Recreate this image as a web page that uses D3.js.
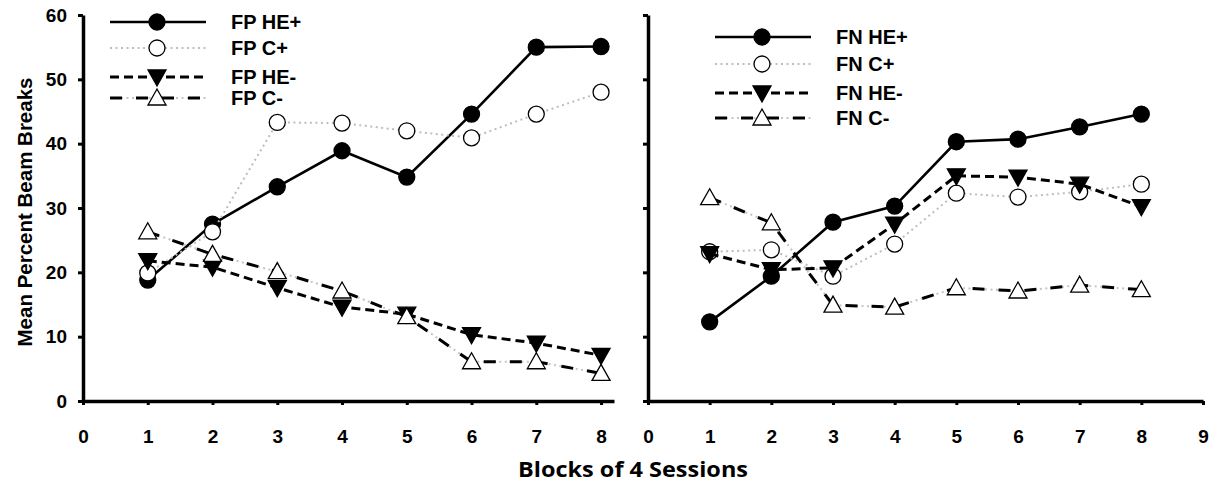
<!DOCTYPE html>
<html>
<head>
    <meta charset="utf-8">
    <title>Mean Percent Beam Breaks</title>
    <style type="text/css">
        body {
            margin: 0;
            background: #fff;
        }
        .axis path, .axis line {
            stroke: #000;
        }
        .axis path {
            stroke-width: 3.5px;
        }
        .axis line {
            stroke-width: 3px;
        }
        .axis text, .legend text {
            font-family: 'Liberation Sans', Arial, sans-serif;
            font-weight: 700;
            fill: #000;
        }
        .axis text {
            font-size: 19px;
        }
        .legend text {
            font-size: 20px;
        }
    </style>
</head>
<body>
<script src="https://d3js.org/d3.v7.min.js"></script>
<script>

    var width = 1224,
        height = 485;

    // data
    var blocks = [1, 2, 3, 4, 5, 6, 7, 8];
    var yTicks = [0, 10, 20, 30, 40, 50, 60];
    var xTicksLeft = [0, 1, 2, 3, 4, 5, 6, 7, 8];
    var xTicksRight = [0, 1, 2, 3, 4, 5, 6, 7, 8, 9];

    var legendLeft = ["FP HE+", "FP C+", "FP HE-", "FP C-"];
    var legendRight = ["FN HE+", "FN C+", "FN HE-", "FN C-"];

    var fpHEplus  = [18.8, 27.5, 33.3, 38.9, 34.8, 44.6, 55.0, 55.1];
    var fpCplus   = [19.9, 26.3, 43.3, 43.2, 42.0, 40.9, 44.6, 48.0];
    var fpHEminus = [21.8, 20.8, 17.6, 14.6, 13.5, 10.3, 9.0, 7.1];
    var fpCminus  = [26.3, 22.8, 20.1, 17.1, 13.1, 6.1, 6.1, 4.3];

    var fnHEplus  = [12.3, 19.4, 27.8, 30.3, 40.3, 40.7, 42.6, 44.6];
    var fnCplus   = [23.2, 23.5, 19.4, 24.4, 32.3, 31.7, 32.5, 33.7];
    var fnHEminus = [22.9, 20.4, 20.7, 27.5, 35.0, 34.8, 33.7, 30.2];
    var fnCminus  = [31.6, 27.7, 14.9, 14.6, 17.6, 17.1, 18.0, 17.3];

    // styles per series: HE+, C+, HE-, C-
    var styles = [
        {marker: "circle", fill: "#000", line: [{stroke: "#000", width: 2.6, dash: null}]},
        {marker: "circle", fill: "#fff", line: [{stroke: "#bdbdbd", width: 2, dash: "2,3.5"}]},
        {marker: "down", fill: "#000", line: [{stroke: "#000", width: 3, dash: "9,5"}]},
        {marker: "up", fill: "#fff", line: [
            {stroke: "#c4c4c4", width: 2, dash: "2,3.5"},
            {stroke: "#000", width: 3, dash: "12,14"}
        ]}
    ];

    var svg = d3.select("body").append("svg")
        .attr("width", width)
        .attr("height", height);

    var y = d3.scaleLinear().domain([0, 60]).range([401, 15]);
    var xLeft = d3.scaleLinear().domain([0, 8.2]).range([83, 614]);
    var xRight = d3.scaleLinear().domain([0, 9]).range([648, 1203]);

    function marker(g, type, fill, cx, cy) {
        if (type === "circle") {
            g.append("circle")
                .attr("cx", cx).attr("cy", cy).attr("r", 8)
                .attr("fill", fill).attr("stroke", "#000").attr("stroke-width", 1.3);
        } else {
            var p = type === "up"
                ? [[0, -9], [9, 7], [-9, 7]]
                : [[0, 9], [9, -7], [-9, -7]];
            g.append("path")
                .attr("transform", "translate(" + cx + "," + cy + ")")
                .attr("d", "M" + p.join("L") + "Z")
                .attr("fill", fill).attr("stroke", "#000").attr("stroke-width", 1.3);
        }
    }

    function panel(x, series, names, xTicks, showLabels, legendX, legendY) {
        var g = svg.append("g");

        // axes
        g.append("g")
            .attr("class", "axis")
            .attr("transform", "translate(" + x.range()[0] + ",0)")
            .call(d3.axisLeft(y).tickValues(yTicks).tickSize(5).tickSizeOuter(0).tickPadding(11)
                .tickFormat(showLabels ? d3.format("d") : ""));

        g.append("g")
            .attr("class", "axis")
            .attr("transform", "translate(0," + y(0) + ")")
            .call(d3.axisBottom(x).tickValues(xTicks).tickSize(4).tickSizeOuter(0).tickPadding(25)
                .tickFormat(d3.format("d")));

        // series
        series.forEach(function (vals, i) {
            var st = styles[i];
            var line = d3.line()
                .x(function (d, j) { return x(blocks[j]); })
                .y(function (d) { return y(d); });
            st.line.forEach(function (ls) {
                g.append("path")
                    .datum(vals)
                    .attr("fill", "none")
                    .attr("stroke", ls.stroke)
                    .attr("stroke-width", ls.width)
                    .attr("stroke-dasharray", ls.dash)
                    .attr("d", line);
            });
            vals.forEach(function (v, j) {
                marker(g, st.marker, st.fill, x(blocks[j]), y(v));
            });
        });

        // legend
        var lg = g.append("g").attr("class", "legend");
        names.forEach(function (name, i) {
            var st = styles[i];
            var ly = legendY[i];
            st.line.forEach(function (ls) {
                lg.append("line")
                    .attr("x1", legendX).attr("x2", legendX + 96)
                    .attr("y1", ly).attr("y2", ly)
                    .attr("stroke", ls.stroke)
                    .attr("stroke-width", ls.width)
                    .attr("stroke-dasharray", ls.dash);
            });
            marker(lg, st.marker, st.fill, legendX + 47, ly);
            lg.append("text")
                .attr("x", legendX + 121)
                .attr("y", ly)
                .attr("dy", "0.36em")
                .text(name);
        });
    }

    panel(xLeft, [fpHEplus, fpCplus, fpHEminus, fpCminus], legendLeft, xTicksLeft, true,
        110, [22, 48, 77, 98]);
    panel(xRight, [fnHEplus, fnCplus, fnHEminus, fnCminus], legendRight, xTicksRight, false,
        715, [37, 64, 93, 118]);

    // axis titles
    svg.append("text")
        .attr("transform", "translate(32," + 212 + ") rotate(-90)")
        .attr("text-anchor", "middle")
        .style("font-family", "'Liberation Sans', Arial, sans-serif")
        .style("font-weight", 700)
        .style("font-size", "20.5px")
        .text("Mean Percent Beam Breaks");

    svg.append("text")
        .attr("x", 633)
        .attr("y", 477)
        .attr("text-anchor", "middle")
        .attr("textLength", 230)
        .attr("lengthAdjust", "spacingAndGlyphs")
        .style("font-family", "'Open Sans', sans-serif")
        .style("font-weight", 700)
        .style("font-size", "22px")
        .text("Blocks of 4 Sessions");

</script>
</body>
</html>
